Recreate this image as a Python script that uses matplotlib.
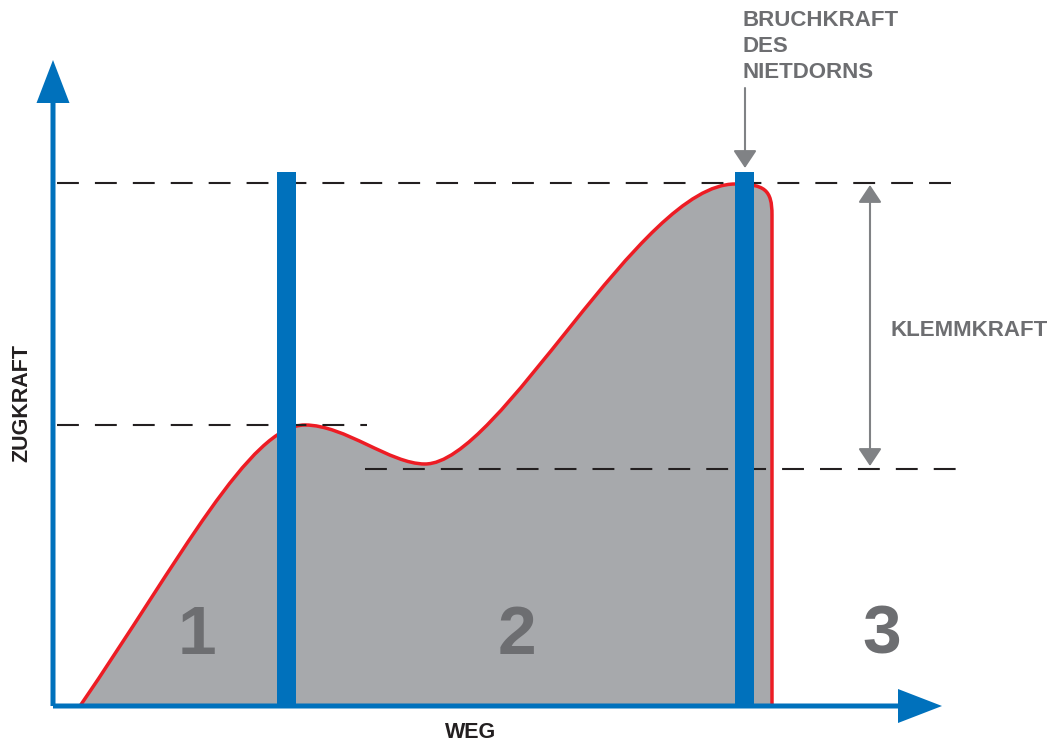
import matplotlib.pyplot as plt
from matplotlib.path import Path
from matplotlib.patches import PathPatch

# Kurve (Weg, Zugkraft): Start, dann je drei Punkte pro Bezier-Segment
kurve_weg = [27, 127, 197, 252, 292, 337, 372, 447, 587, 682, 712, 719, 719, 719]
kurve_kraft = [0, 146, 281, 281, 281, 242, 242, 242, 522, 522, 522, 516, 491, 0]

# Nietdorn-Balken und Hilfslinien
dorn_weg = [233, 691]
dorn_hoehe = 534
niveau_bruch = 523
niveau_1 = 281
niveau_klemm = 237

zonen = ["1", "2", "3"]
zonen_weg = [144, 464, 829]

blau = "#0071bc"
rot = "#ed1c24"
grau = "#a7a9ac"
textgrau = "#6d6e71"
pfeilgrau = "#808285"
schwarz = "#231f20"

fig = plt.figure(figsize=(10.6, 7.42), dpi=100)
ax = fig.add_axes([0, 0, 1, 1])
ax.set_xlim(-53, 1007)
ax.set_ylim(-36, 706)
ax.axis("off")

# Flaeche und rote Kurve
codes = [Path.MOVETO] + [Path.CURVE4] * 12 + [Path.LINETO]
pts = list(zip(kurve_weg, kurve_kraft))
fill_path = Path(pts + [(kurve_weg[0], 0), (kurve_weg[0], 0)],
                 codes + [Path.LINETO, Path.CLOSEPOLY])
ax.add_patch(PathPatch(fill_path, facecolor=grau, edgecolor="none", zorder=1))
ax.add_patch(PathPatch(Path(pts, codes), facecolor="none", edgecolor=rot,
                       lw=2.5, joinstyle="round", zorder=2))

# gestrichelte Linien
def strich(x0, x1, y):
    ln, = ax.plot([x0, x1], [y, y], color=schwarz, lw=1.5, zorder=3)
    ln.set_dashes((10.5, 7.7))

strich(4, 912, niveau_bruch)
strich(4, 314, niveau_1)
strich(312, 912, niveau_klemm)

# Nietdorne
ax.bar(dorn_weg, dorn_hoehe, width=19, bottom=0, color=blau, zorder=4)

# Achsen
ax.arrow(0, 0, 0, 646, width=5, head_width=33, head_length=43,
         length_includes_head=True, color=blau, lw=0, zorder=5)
ax.arrow(0, 0, 889, 0, width=5, head_width=34, head_length=44,
         length_includes_head=True, color=blau, lw=0, zorder=5)

# Klemmkraft-Pfeil
ax.annotate("", xy=(817, 240), xytext=(817, 521),
            arrowprops=dict(arrowstyle="<|-|>,head_length=0.6,head_width=0.4",
                            color=pfeilgrau, lw=1.5, mutation_scale=18,
                            shrinkA=0, shrinkB=0), zorder=5)
ax.text(837, 375, "KLEMMKRAFT", color=textgrau, fontsize=16, fontweight="bold",
        family="Liberation Sans", ha="left", va="center")

# Bruchkraft-Pfeil
ax.annotate("", xy=(692, 538), xytext=(692, 618),
            arrowprops=dict(arrowstyle="-|>,head_length=0.6,head_width=0.4",
                            color=pfeilgrau, lw=1.5, mutation_scale=18,
                            shrinkA=0, shrinkB=0), zorder=5)
ax.text(690, 696, "BRUCHKRAFT\nDES\nNIETDORNS", color=textgrau, fontsize=16,
        fontweight="bold", family="Liberation Sans", ha="left", va="top",
        linespacing=1.32)

# Achsentitel
ax.text(418, -27, "WEG", color=schwarz, fontsize=15.5, fontweight="bold",
        family="Liberation Sans", ha="center", va="center")
ax.text(-31, 303, "ZUGKRAFT", color=schwarz, fontsize=15.5, fontweight="bold",
        family="Liberation Sans", ha="center", va="center", rotation=90)

# Zonen
for z, x in zip(zonen, zonen_weg):
    ax.text(x, 70, z, color=textgrau, fontsize=50, fontweight="bold",
            family="Liberation Sans", ha="center", va="center", zorder=3)

fig.savefig("out.png", dpi=100)
